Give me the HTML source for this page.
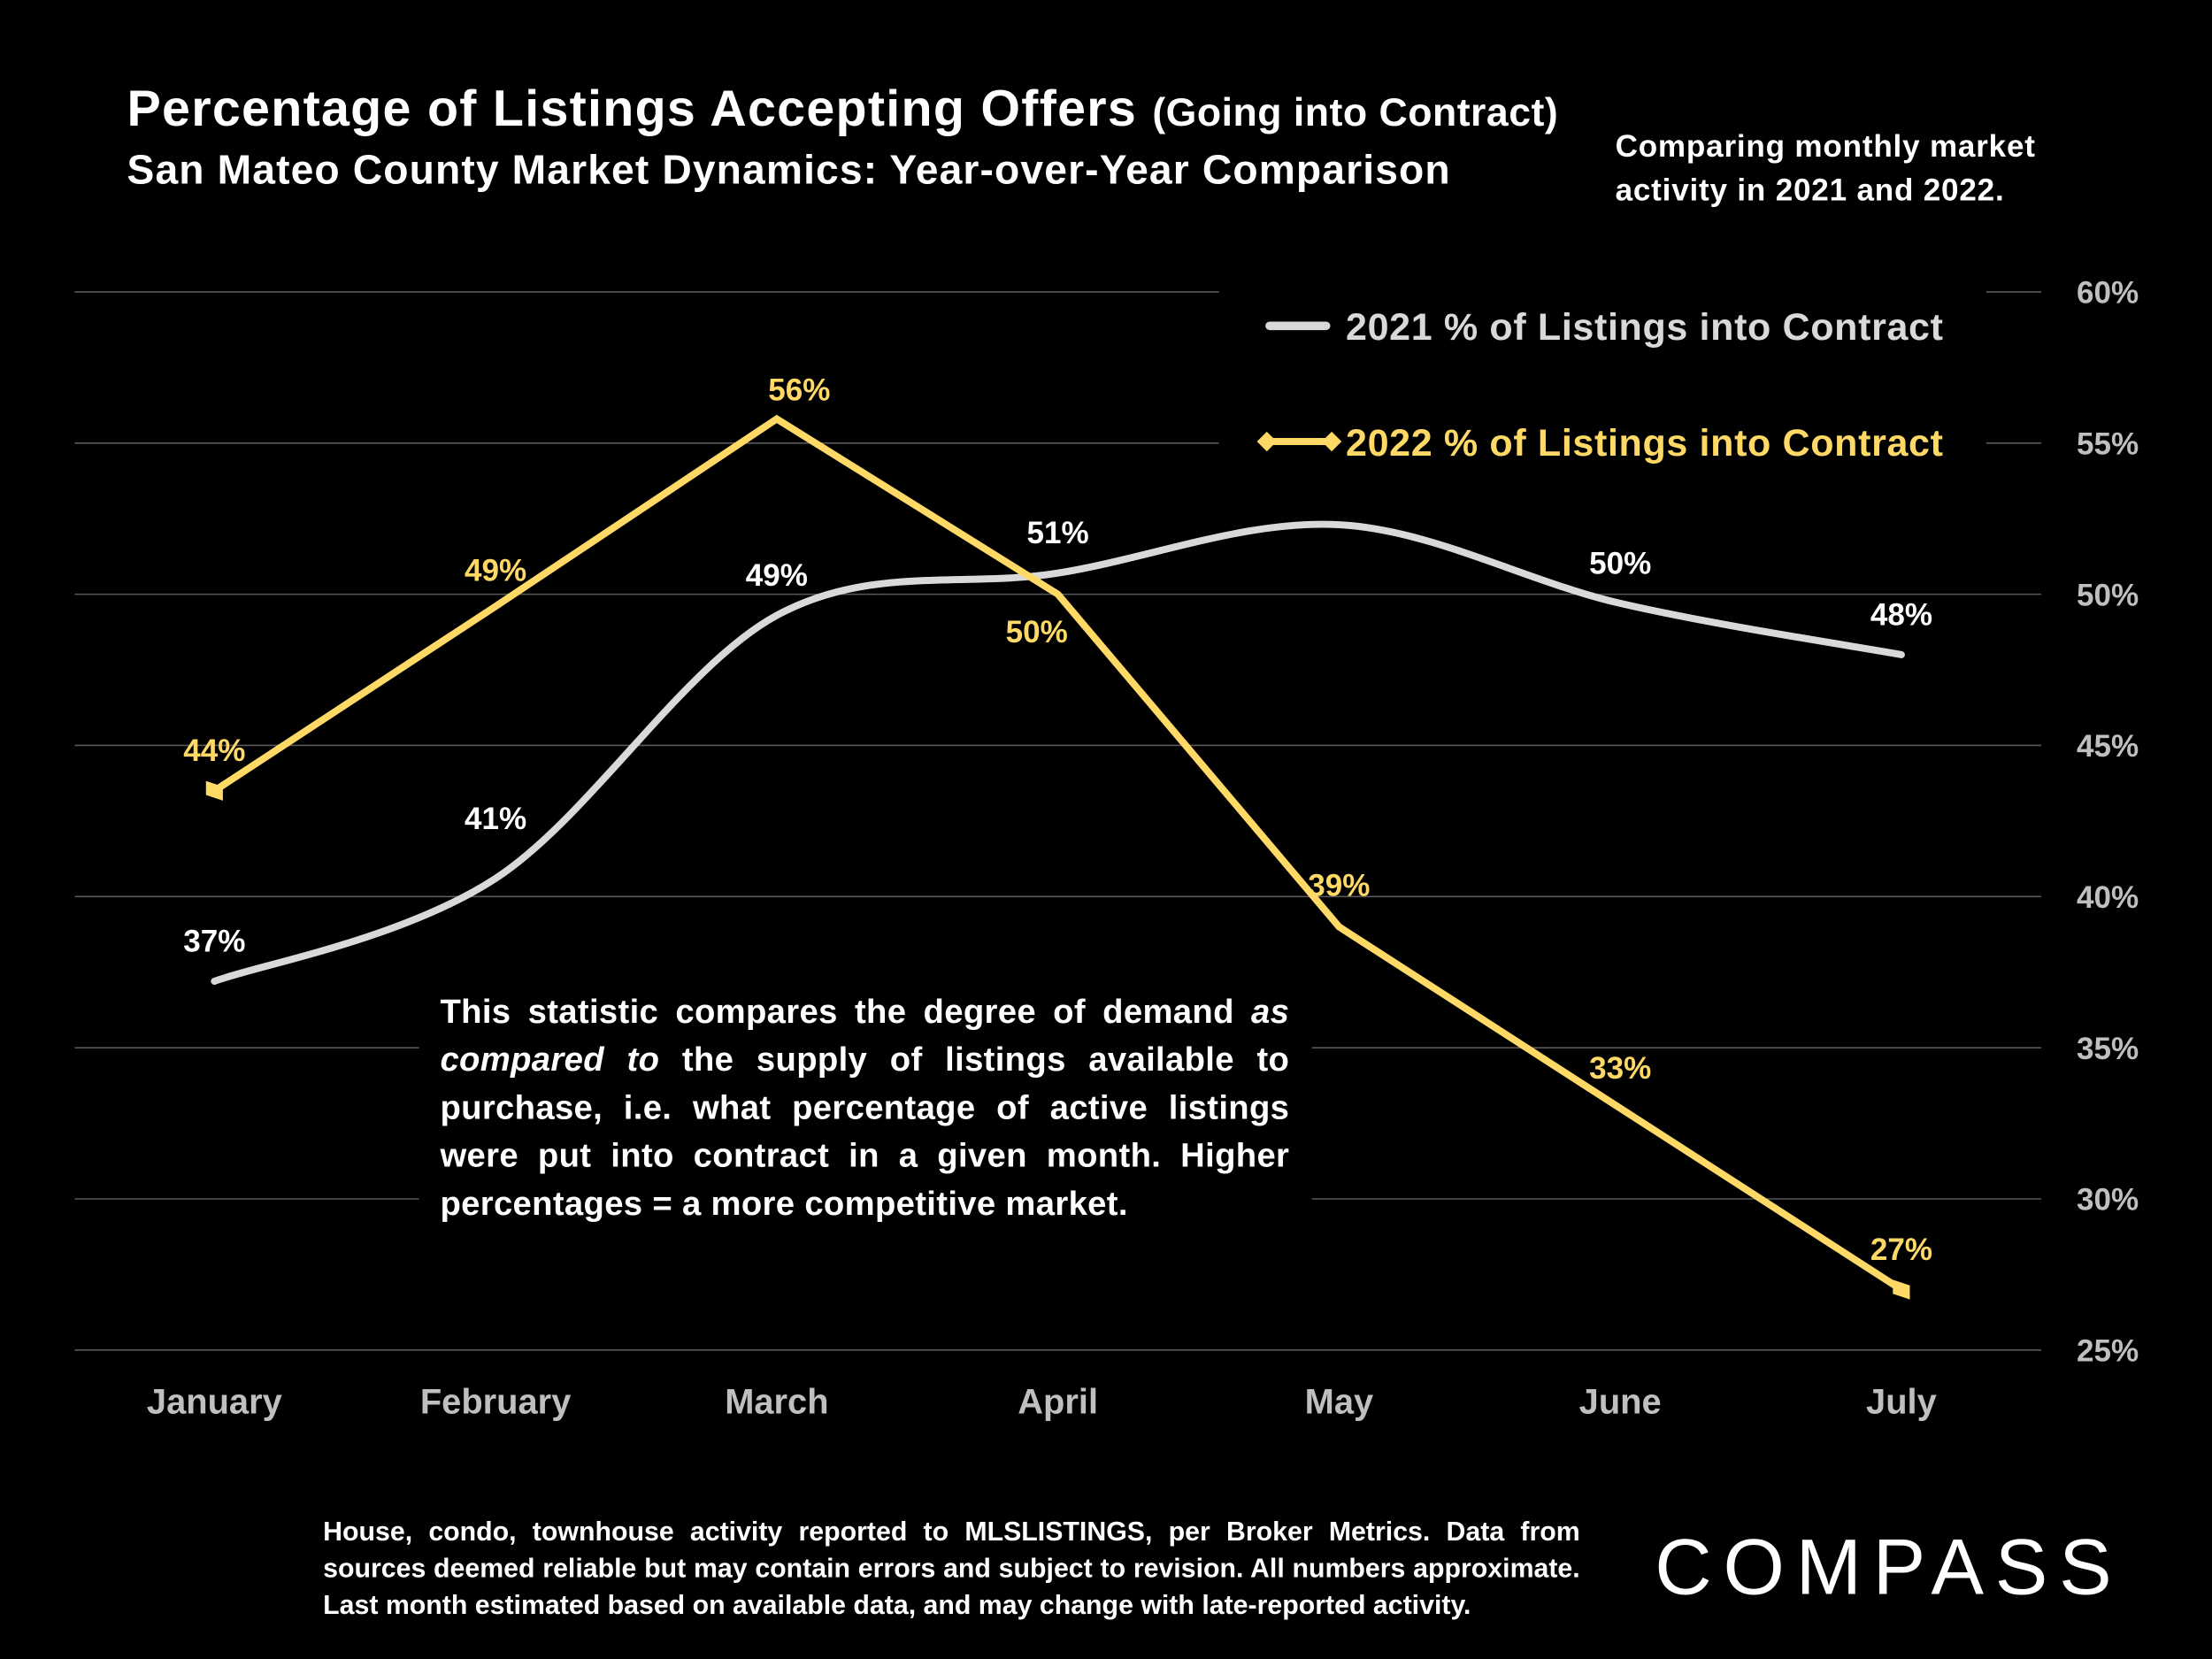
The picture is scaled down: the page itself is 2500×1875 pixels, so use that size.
<!DOCTYPE html>
<html><head><meta charset="utf-8">
<style>
html,body{margin:0;padding:0;background:#000;width:2500px;height:1875px;overflow:hidden}
#root{position:absolute;left:0;top:0;width:1568px;height:1176px;transform:scale(1.59439);transform-origin:0 0;background:#000;font-family:"Liberation Sans",sans-serif;color:#fff}
.t{position:absolute;white-space:nowrap;font-weight:bold}
.para div{text-align:justify;text-align-last:justify;height:34px;line-height:34px}
.foot div{text-align:justify;text-align-last:justify;height:26px;line-height:26px}
</style></head><body>
<div id="root">
<div class="t" style="left:90px;top:56px;font-size:36px;letter-spacing:0.8px">Percentage of Listings Accepting Offers <span style="font-size:28px;letter-spacing:0.3px">(Going into Contract)</span></div>
<div class="t" style="left:90px;top:105px;font-size:29px;letter-spacing:0.7px">San Mateo County Market Dynamics: Year-over-Year Comparison</div>
<div class="t" style="left:1145px;top:88px;font-size:22px;line-height:31px;letter-spacing:0.5px">Comparing monthly market<br>activity in 2021 and 2022.</div>

<svg id="chart" width="1568" height="1176" style="position:absolute;left:0;top:0" font-family="Liberation Sans, sans-serif"></svg>

<div class="para t" style="left:312px;top:701px;width:602px;font-size:24px;white-space:normal;letter-spacing:0.2px">
<div>This statistic compares the degree of demand <i>as</i></div>
<div><i>compared to</i> the supply of listings available to</div>
<div>purchase, i.e. what percentage of active listings</div>
<div>were put into contract in a given month. Higher</div>
<div style="text-align-last:left">percentages = a more competitive market.</div>
</div>
<div class="foot t" style="left:229px;top:1074px;width:891px;font-size:19px;white-space:normal;letter-spacing:0px">
<div>House, condo, townhouse activity reported to MLSLISTINGS, per Broker Metrics. Data from</div>
<div>sources deemed reliable but may contain errors and subject to revision. All numbers approximate.</div>
<div style="text-align-last:left">Last month estimated based on available data, and may change with late-reported activity.</div>
</div>
<div class="t" style="left:1173px;top:1080px;font-size:56px;font-weight:normal;letter-spacing:8px;line-height:62px">COMPASS</div>
</div>
<script>
const months=["January","February","March","April","May","June","July"];
const yTicks=[25,30,35,40,45,50,55,60];
const series2021=[37.2,40.6,49.3,50.7,52.3,49.7,48.0];
const labels2021=["37%","41%","49%","51%","","50%","48%"];
const series2022=[43.5,49.6,55.8,50.0,39.0,33.0,27.0];
const labels2022=["44%","49%","56%","50%","39%","33%","27%"];
const NS="http://www.w3.org/2000/svg";
const svg=document.getElementById('chart');
function x(i){return 152+i*199.3;}
function y(v){return 957-(v-25)*21.43;}
function mk(tag,attrs,parent){const e=document.createElementNS(NS,tag);for(const k in attrs)e.setAttribute(k,attrs[k]);(parent||svg).appendChild(e);return e;}
yTicks.forEach(t=>{
  const yy=y(t);
  let segs=[[53,1447]];
  if(t>=55) segs=[[53,864],[1408,1447]];
  if(t===35||t===30) segs=[[53,297],[930,1447]];
  segs.forEach(s=>{
    const l=mk('line',{x1:s[0],x2:s[1],y1:yy,y2:yy,stroke:'#595959','stroke-width':1});
    
    
  });
  const tx=mk('text',{x:1472,y:yy+8,fill:'#bfbfbf','font-size':22,'font-weight':'bold'});
  tx.textContent=t+'%';
  
  
});
months.forEach((m,i)=>{
  const tx=mk('text',{x:x(i),y:1002,fill:'#bfbfbf','font-size':25,'font-weight':'bold','text-anchor':'middle'});
  tx.textContent=m;
  
  
});
const p=series2021.map((v,i)=>[x(i),y(v)]);
let d='M'+p[0][0]+','+p[0][1];
for(let i=0;i<p.length-1;i++){
  const p0=p[i-1]||p[i],p1=p[i],p2=p[i+1],p3=p[i+2]||p[i+1];
  const c1=[p1[0]+(p2[0]-p0[0])/6,p1[1]+(p2[1]-p0[1])/6];
  const c2=[p2[0]-(p3[0]-p1[0])/6,p2[1]-(p3[1]-p1[1])/6];
  d+=' C'+c1+' '+c2+' '+p2;
}
const l21=mk('path',{d:d,fill:'none',stroke:'#d9d9d9','stroke-width':5,'stroke-linecap':'round'});


const d22='M'+series2022.map((v,i)=>x(i)+','+y(v)).join(' L');
const l22=mk('path',{d:d22,fill:'none',stroke:'#ffd966','stroke-width':5,'stroke-linejoin':'miter'});


[0,series2022.length-1].forEach(i=>{
  const cx=x(i),cy=y(series2022[i]);
  const m=mk('polygon',{points:(cx-6)+','+(cy-7)+' '+(cx+6)+','+(cy-3)+' '+(cx+6)+','+(cy+7)+' '+(cx-6)+','+(cy+3),fill:'#ffd966'});
  
  
});
const off21=[[0,-21],[0,-35],[0,-21],[0,-21],[0,-21],[0,-21],[0,-21]];
labels2021.forEach((s,i)=>{
  if(!s)return;
  const tx=mk('text',{x:x(i)+off21[i][0],y:y(series2021[i])+off21[i][1],fill:'#fff','font-size':22,'font-weight':'bold','text-anchor':'middle'});
  tx.textContent=s;
  
  
});
const off22=[[0,-21],[0,-18],[16,-13],[-15,34],[0,-22],[0,-21],[0,-21]];
labels2022.forEach((s,i)=>{
  const tx=mk('text',{x:x(i)+off22[i][0],y:y(series2022[i])+off22[i][1],fill:'#ffd966','font-size':22,'font-weight':'bold','text-anchor':'middle'});
  tx.textContent=s;
  
  
});
const lg1=mk('line',{x1:900,x2:940,y1:231,y2:231,stroke:'#d9d9d9','stroke-width':6,'stroke-linecap':'round'});


const lt1=mk('text',{x:954,y:241,fill:'#d9d9d9','font-size':27,'font-weight':'bold','letter-spacing':'0.4'});
lt1.textContent='2021 % of Listings into Contract';


const lg2=mk('line',{x1:898,x2:944,y1:313,y2:313,stroke:'#ffd966','stroke-width':5});


[898,944].forEach(cx=>{
  const dm=mk('polygon',{points:(cx-7)+',313 '+cx+',306 '+(cx+7)+',313 '+cx+',320',fill:'#ffd966'});
  
  
});
const lt2=mk('text',{x:954,y:323,fill:'#ffd966','font-size':27,'font-weight':'bold','letter-spacing':'0.4'});
lt2.textContent='2022 % of Listings into Contract';


</script>
</body></html>
